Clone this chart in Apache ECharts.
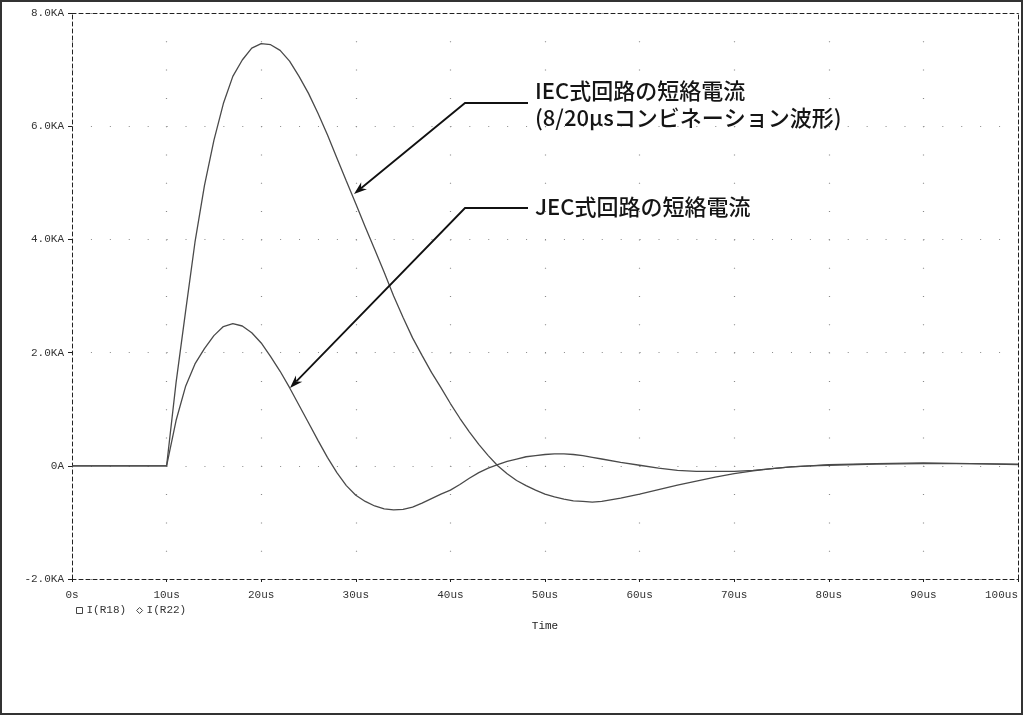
<!DOCTYPE html>
<html>
<head>
<meta charset="utf-8">
<script src="https://cdn.jsdelivr.net/npm/echarts@6/dist/echarts.min.js"></script>
<style>
  html, body { margin: 0; padding: 0; background: #fff; }
  #chart { width: 1024px; height: 716px; }
</style>
</head>
<body>
<div id="chart"></div>
<script>
// time axis (us)
var times = [0, 10, 11, 12, 13, 14, 15, 16, 17, 18, 19, 20, 21, 22, 23, 24, 25, 26, 27, 28, 29,
  30, 31, 32, 33, 34, 35, 36, 37, 38, 39, 40, 41, 42, 43, 44, 45, 46, 47, 48, 49,
  50, 51, 52, 53, 54, 55, 56, 58, 60, 62, 64, 66, 68, 70, 72, 74, 76, 78, 80, 85, 90, 95, 100];

// I(R18): IEC circuit short-circuit current (KA)
var iecCurrent = [0, 0, 1.47, 2.72, 3.95, 4.95, 5.75, 6.4, 6.88, 7.17, 7.38, 7.46, 7.44, 7.34, 7.15, 6.88, 6.58, 6.23, 5.85, 5.44, 5.03,
  4.63, 4.22, 3.82, 3.42, 3.0, 2.62, 2.26, 1.95, 1.65, 1.38, 1.1, 0.84, 0.6, 0.38, 0.18, 0.0, -0.14, -0.26, -0.35, -0.43,
  -0.5, -0.55, -0.59, -0.62, -0.63, -0.64, -0.63, -0.57, -0.5, -0.42, -0.34, -0.27, -0.2, -0.14, -0.09, -0.05, -0.02, 0, 0.02, 0.04, 0.05, 0.04, 0.03];

// I(R22): JEC circuit short-circuit current (KA)
var jecCurrent = [0, 0, 0.8, 1.4, 1.8, 2.07, 2.3, 2.46, 2.51, 2.47, 2.35, 2.17, 1.93, 1.67, 1.38, 1.07, 0.76, 0.45, 0.15, -0.12, -0.35,
  -0.52, -0.63, -0.71, -0.76, -0.78, -0.77, -0.73, -0.66, -0.58, -0.5, -0.43, -0.33, -0.22, -0.12, -0.04, 0.02, 0.08, 0.12, 0.16, 0.18,
  0.2, 0.21, 0.21, 0.2, 0.18, 0.15, 0.12, 0.06, 0.01, -0.04, -0.08, -0.1, -0.1, -0.1, -0.08, -0.05, -0.02, 0, 0.01, 0.03, 0.04, 0.04, 0.02];

var seriesNames = ['I(R18)', 'I(R22)'];
var annotationLines = ['IEC式回路の短絡電流', '(8/20μsコンビネーション波形)', 'JEC式回路の短絡電流'];

var gridLeft = 72, gridRight = 6, gridTop = 13, gridBottom = 137;
var gridW = 1024 - gridLeft - gridRight;
var gridH = 716 - gridTop - gridBottom;
var mono = '"Liberation Mono", "DejaVu Sans Mono", monospace';
var jp = '"Noto Sans CJK JP", "Noto Sans", sans-serif';

function pairs(xs, ys) {
  var out = [];
  for (var i = 0; i < xs.length; i++) out.push([xs[i], ys[i]]);
  return out;
}

function yLabel(v) {
  if (v === 0) return '0A';
  return v.toFixed(1) + 'KA';
}

// arrow: line from a bend point, with a filled head at the tip
function arrow(start, bend, tip) {
  var dx = bend[0] - tip[0], dy = bend[1] - tip[1];
  var len = Math.sqrt(dx * dx + dy * dy);
  var ux = dx / len, uy = dy / len;
  var hl = 13, hw = 4.5;
  var bx = tip[0] + ux * hl, by = tip[1] + uy * hl;
  var nx = tip[0] + ux * hl * 0.7, ny = tip[1] + uy * hl * 0.7;
  return [
    { type: 'polyline', shape: { points: [start, bend, [nx, ny]] },
      style: { stroke: '#111', lineWidth: 1.8, fill: null }, z: 10 },
    { type: 'polygon', shape: { points: [tip, [bx - uy * hw, by + ux * hw], [nx, ny], [bx + uy * hw, by - ux * hw]] },
      style: { fill: '#111' }, z: 10 }
  ];
}

var chart = echarts.init(document.getElementById('chart'));

var frameAxis = {
  axisLine: { show: true, onZero: false, lineStyle: { color: '#222', width: 1, type: [4, 3] } },
  axisTick: { show: false },
  axisLabel: { show: false },
  splitLine: { show: false }
};

var textFont = '500 22px ' + jp;
var graphics = [
  { type: 'rect', shape: { x: 1, y: 1, width: 1021, height: 713 },
    style: { fill: null, stroke: '#333', lineWidth: 2 }, z: 10 },
  { type: 'text', left: 535, top: 80,
    style: { text: annotationLines[0], font: textFont, fill: '#151515' }, z: 10 },
  { type: 'text', left: 535, top: 107,
    style: { text: annotationLines[1], font: textFont, fill: '#151515' }, z: 10 },
  { type: 'text', left: 535, top: 196,
    style: { text: annotationLines[2], font: textFont, fill: '#151515' }, z: 10 }
].concat(arrow([528, 103], [465, 103], [354, 194]))
 .concat(arrow([528, 208], [465, 208], [290, 388]));

chart.setOption({
  animation: false,
  backgroundColor: '#fff',
  grid: { left: gridLeft, right: gridRight, top: gridTop, bottom: gridBottom, outerBoundsMode: 'none', containLabel: false },
  legend: {
    left: 71, top: 600,
    itemWidth: 6, itemHeight: 6, itemGap: 10,
    textStyle: { fontFamily: mono, fontSize: 11, color: '#333', padding: [0, 0, 0, -1] },
    data: [
      { name: seriesNames[0], icon: 'rect', itemStyle: { color: '#fff', borderColor: '#444', borderWidth: 1 } },
      { name: seriesNames[1], icon: 'diamond', itemStyle: { color: '#fff', borderColor: '#444', borderWidth: 1 } }
    ]
  },
  xAxis: [{
    type: 'value', min: 0, max: 100, interval: 10,
    name: 'Time', nameLocation: 'middle', nameGap: 42,
    nameTextStyle: { fontFamily: mono, fontSize: 11, color: '#222' },
    axisLine: { show: true, onZero: false, lineStyle: { color: '#222', width: 1, type: [4, 3] } },
    axisTick: { show: true, length: 3, lineStyle: { color: '#222' } },
    axisLabel: { margin: 11, fontFamily: mono, fontSize: 11, color: '#333', alignMaxLabel: 'right',
      formatter: function (v) { return v === 0 ? '0s' : v + 'us'; } },
    splitLine: { show: true, lineStyle: { color: '#8a8a8a', width: 1.2, type: [1, gridH / 20 - 1] } }
  }, Object.assign({ type: 'value', position: 'top', min: 0, max: 100 }, frameAxis)],
  yAxis: [{
    type: 'value', min: -2, max: 8, interval: 2,
    axisLine: { show: true, onZero: false, lineStyle: { color: '#222', width: 1, type: [4, 3] } },
    axisTick: { show: true, length: 4, lineStyle: { color: '#222' } },
    axisLabel: { margin: 8, fontFamily: mono, fontSize: 11, color: '#333', formatter: yLabel },
    splitLine: { show: true, lineStyle: { color: '#8a8a8a', width: 1.2, type: [1, gridW / 50 - 1] } }
  }, Object.assign({ type: 'value', position: 'right', min: -2, max: 8 }, frameAxis)],
  series: [{
    name: seriesNames[0], type: 'line', data: pairs(times, iecCurrent),
    showSymbol: false, smooth: false,
    lineStyle: { color: '#4a4a4a', width: 1.3 }
  }, {
    name: seriesNames[1], type: 'line', data: pairs(times, jecCurrent),
    showSymbol: false, smooth: false,
    lineStyle: { color: '#4a4a4a', width: 1.3 }
  }],
  graphic: graphics
});
</script>
</body>
</html>
